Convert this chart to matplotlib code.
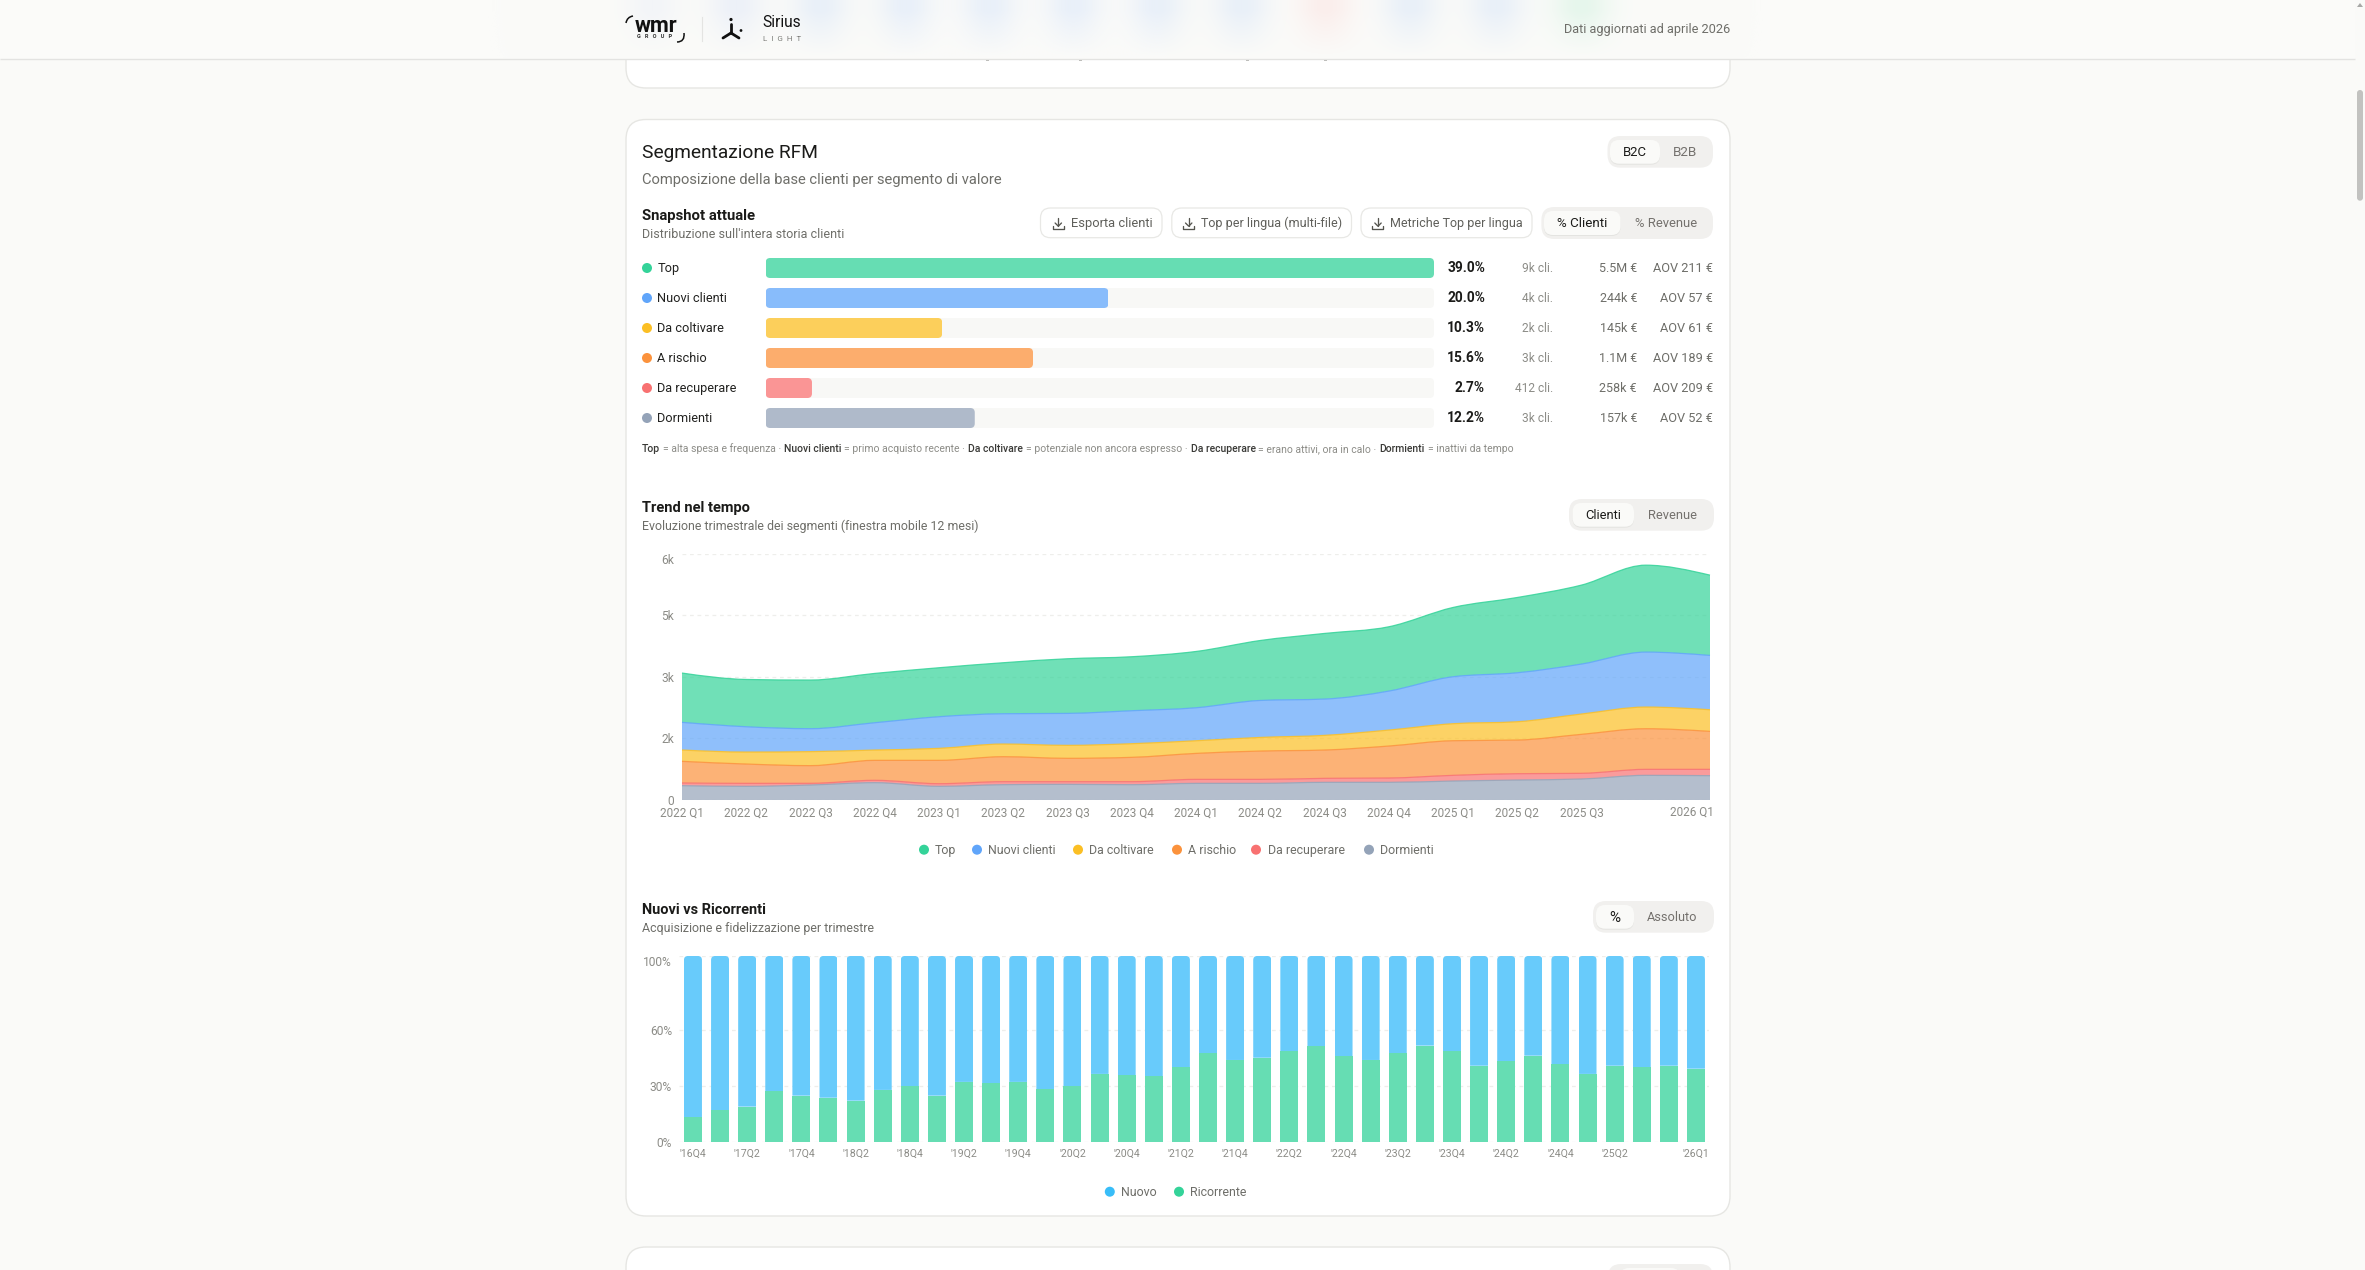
import numpy as np
import matplotlib
matplotlib.use("Agg")
import matplotlib.pyplot as plt
from matplotlib.patches import FancyBboxPatch, PathPatch, Rectangle, Circle
from matplotlib.path import Path

plt.rcParams['font.family'] = ['Roboto', 'DejaVu Sans']

# ---- snapshot data ----
SEGMENTS = ["Top", "Nuovi clienti", "Da coltivare", "A rischio", "Da recuperare", "Dormienti"]
SHARE_PCT = [39.0, 20.0, 10.3, 15.6, 2.7, 12.2]
CLIENTS = ["9k cli.", "4k cli.", "2k cli.", "3k cli.", "412 cli.", "3k cli."]
REVENUE = ["5.5M €", "244k €", "145k €", "1.1M €", "258k €", "157k €"]
AOV = ["AOV 211 €", "AOV 57 €", "AOV 61 €", "AOV 189 €", "AOV 209 €", "AOV 52 €"]
SEG_COLORS = ["#34D399", "#60A5FA", "#FBBF24", "#FB923C", "#F87171", "#94A3B8"]
BAR_COLORS = ["#66DDB3", "#88BCFB", "#FCCF5B", "#FCAD6D", "#FA9595", "#AFBACA"]

# ---- quarterly trend, clients per segment ----
TREND_QUARTERS = ["2022 Q1", "2022 Q2", "2022 Q3", "2022 Q4", "2023 Q1", "2023 Q2", "2023 Q3", "2023 Q4",
                  "2024 Q1", "2024 Q2", "2024 Q3", "2024 Q4", "2025 Q1", "2025 Q2", "2025 Q3", "2025 Q4", "2026 Q1"]
DORMIENTI = [349, 332, 365, 422, 332, 373, 381, 373, 405, 405, 430, 430, 462, 486, 511, 600, 592]
DA_RECUPERARE = [65, 73, 41, 57, 65, 73, 65, 73, 97, 97, 97, 105, 138, 154, 138, 146, 154]
A_RISCHIO = [527, 470, 430, 486, 568, 608, 568, 592, 632, 689, 689, 778, 843, 819, 949, 989, 924]
DA_COLTIVARE = [276, 292, 341, 251, 292, 308, 316, 332, 308, 332, 357, 389, 414, 446, 495, 527, 527]
NUOVI_CLIENTI = [673, 616, 559, 665, 770, 738, 778, 803, 803, 900, 884, 949, 1143, 1192, 1216, 1338, 1322]
TOP = [1200, 1151, 1184, 1200, 1192, 1241, 1330, 1314, 1370, 1459, 1597, 1565, 1686, 1832, 1922, 2116, 1954]
TREND_TICKS = [0, 1500, 3000, 4500, 6000]
TREND_TICK_LABELS = ["0", "2k", "3k", "5k", "6k"]

# ---- new vs returning customers, share per quarter ----
MIX_QUARTERS = ["'16Q4", "'17Q1", "'17Q2", "'17Q3", "'17Q4", "'18Q1", "'18Q2", "'18Q3", "'18Q4", "'19Q1",
                "'19Q2", "'19Q3", "'19Q4", "'20Q1", "'20Q2", "'20Q3", "'20Q4", "'21Q1", "'21Q2", "'21Q3",
                "'21Q4", "'22Q1", "'22Q2", "'22Q3", "'22Q4", "'23Q1", "'23Q2", "'23Q3", "'23Q4", "'24Q1",
                "'24Q2", "'24Q3", "'24Q4", "'25Q1", "'25Q2", "'25Q3", "'25Q4", "'26Q1"]
RICORRENTE = [13.4, 17.0, 19.0, 27.2, 24.9, 23.8, 22.2, 28.0, 29.9, 24.9, 32.3, 31.5, 32.3, 28.3, 29.9, 36.6,
              35.8, 35.3, 40.1, 47.7, 44.1, 45.3, 48.7, 51.4, 46.1, 44.1, 47.8, 51.8, 48.7, 41.0, 43.5, 46.4,
              41.8, 36.6, 41.0, 40.1, 41.0, 39.4]
MIX_TICKS = [0, 30, 60, 100]

INK = "#1B1B19"
MUTED = "#6E6E69"
SOFT = "#8C8C87"
PAGE = "#FAFAF8"
LINE = "#E6E6E3"
GRID = "#EEEEEB"

W, H = 2365, 1270
fig = plt.figure(figsize=(W / 100, H / 100), dpi=100, facecolor=PAGE)
renderer = fig.canvas.get_renderer()
page = fig.add_axes([0, 0, 1, 1], zorder=0)
page.set_axis_off()


def pt(px):
    return px * 72 / 100


def label(x, y, s, px=13, color=INK, ha="left", weight="normal", width_px=None):
    """Place text by its visual centre line, optionally sized to a given pixel width."""
    t = page.text(x, y + 0.32 * px, s, fontsize=pt(px), color=color, ha=ha, va="baseline", fontweight=weight)
    if width_px is not None:
        measured = t.get_window_extent(renderer).width
        px = px * width_px / measured
        t.set_fontsize(pt(px))
        t.set_y(y + 0.32 * px)
    return t


def fitted_px(s, width_px, weight="normal"):
    """Font size in pixels at which a string spans the given width."""
    t = page.text(0, 0, s, fontsize=pt(20), fontweight=weight)
    w = t.get_window_extent(renderer).width
    t.remove()
    return 20 * width_px / w


def round_box(x0, y0, x1, y1, r, fc, ec="none", lw=0.0, z=1):
    p = FancyBboxPatch((x0, y0), x1 - x0, y1 - y0, boxstyle=f"round,pad=0,rounding_size={r}",
                       fc=fc, ec=ec, lw=lw, zorder=z, mutation_aspect=1)
    page.add_patch(p)
    return p


def toggle(x0, y0, x1, y1, ax0, ax1, items):
    round_box(x0, y0, x1, y1, 13, "#F1F0EE")
    round_box(ax0, y0 + 5, ax1, y1 - 3, 9, "#E4E4E1", z=1.1)
    round_box(ax0, y0 + 4, ax1, y1 - 4, 9, "#FAFAF8", z=1.2)
    for i, (cx, s, w) in enumerate(items):
        t = label(cx, (y0 + y1) / 2, s, px=12, color=INK if i == 0 else "#74716D", ha="center", width_px=w)
        t.set_zorder(2)


def rounded_path(x0, y0, x1, y1, rx, ry, bottom=True):
    """Rectangle outline with rounded top corners (and bottom ones if requested), in data units."""
    v = [(x0, y0 + ry), (x0, y0), (x0 + rx, y0), (x1 - rx, y0), (x1, y0), (x1, y0 + ry)]
    c = [Path.MOVETO, Path.CURVE3, Path.CURVE3, Path.LINETO, Path.CURVE3, Path.CURVE3]
    if bottom:
        v += [(x1, y1 - ry), (x1, y1), (x1 - rx, y1), (x0 + rx, y1), (x0, y1), (x0, y1 - ry), (x0, y0 + ry)]
        c += [Path.LINETO, Path.CURVE3, Path.CURVE3, Path.LINETO, Path.CURVE3, Path.CURVE3, Path.CLOSEPOLY]
    else:
        v += [(x1, y1), (x0, y1), (x0, y0 + ry)]
        c += [Path.LINETO, Path.LINETO, Path.CLOSEPOLY]
    return Path(v, c)


def chart_axes(left, top, right, bottom):
    ax = fig.add_axes([left / W, 1 - bottom / H, (right - left) / W, (bottom - top) / H], zorder=2)
    ax.patch.set_alpha(0)
    for sp in ax.spines.values():
        sp.set_visible(False)
    return ax


def monotone_curve(y):
    """Bezier control points of a monotone cubic through unit-spaced values."""
    y = np.asarray(y, float)
    s = np.diff(y)
    t = np.zeros_like(y)
    for i in range(1, len(y) - 1):
        a, b = s[i - 1], s[i]
        t[i] = ((1 if a >= 0 else -1) + (1 if b >= 0 else -1)) * min(abs(a), abs(b), 0.5 * abs((a + b) / 2))
    t[0] = (3 * s[0] - t[1]) / 2
    t[-1] = (3 * s[-1] - t[-2]) / 2
    pts = []
    for i in range(len(y) - 1):
        pts += [(i + 1 / 3, y[i] + t[i] / 3), (i + 2 / 3, y[i + 1] - t[i + 1] / 3), (i + 1, y[i + 1])]
    return [(0.0, y[0])] + pts


# ---- page frame ----
page.set_xlim(0, W)
page.set_ylim(H, 0)

round_box(626, -60, 1730, 88, 20, "white", LINE, 1.0)
round_box(626, 119.5, 1730, 1216, 20, "white", LINE, 1.0)
round_box(626, 1247, 1730, 1330, 20, "white", LINE, 1.0)
round_box(1608, 1264, 1713, 1300, 13, "#F1F0EE")
round_box(1620, 1268, 1680, 1300, 9, "#FAFAF8", z=1.2)

# ---- translucent header with the blurred content behind it ----
hy, hx = np.mgrid[0:59, 0:2355]
header = np.ones((59, 2355, 3)) * np.array([251, 251, 249]) / 255
blobs = [(652, "#F3F5F8", 19), (736, "#EDF1F8", 20), (820, "#E9F0F9", 20), (905, "#E9F0F9", 20), (989, "#E9F0F9", 20),
         (1073, "#E9F0F9", 20), (1157, "#E9F0F9", 20), (1241, "#E9F0F9", 20), (1325, "#FBEEEC", 20),
         (1410, "#E9F0F9", 20), (1496, "#E9F0F9", 20), (1581, "#E6F6EC", 21)]
for cx, col, sig in blobs:
    rgb = np.array(matplotlib.colors.to_rgb(col))
    w = np.exp(-((hx - cx) / sig) ** 2 / 2) * np.clip((58 - hy) / 48, 0, 1) ** 1.1
    header = header * (1 - w[..., None]) + rgb * w[..., None]
page.imshow(header, extent=(0, 2355, 59, 0), aspect="auto", zorder=3, interpolation="bilinear")
page.set_xlim(0, W)
page.set_ylim(H, 0)
page.plot([0, 2355], [58.7, 58.7], color="#E3E3E1", lw=1.0, zorder=3.1, solid_capstyle="butt")

for sx in (988, 1081, 1248, 1326):
    page.add_patch(Rectangle((sx - 1.5, 59.3), 3, 1.8, fc="#B5B5B2", ec="none", zorder=1.5))

# logos
label(635, 25, "wmr", px=20, weight="bold", color="#111111", width_px=43).set_zorder(4)
label(637, 36.5, "G   R   O   U   P", px=5, weight="bold", color="#333333", width_px=36).set_zorder(4)
page.add_patch(PathPatch(Path([(626, 23), (627, 17), (633, 16)], [Path.MOVETO, Path.CURVE3, Path.CURVE3]),
                         fc="none", ec="#111111", lw=1.1, zorder=4))
page.add_patch(PathPatch(Path([(677, 42), (685, 42), (684, 33)], [Path.MOVETO, Path.CURVE3, Path.CURVE3]),
                         fc="none", ec="#111111", lw=1.1, zorder=4))
page.plot([701.7, 701.7], [17, 41], color="#E4E4E2", lw=0.8, zorder=4)
for a, b in (((731, 24), (731, 33)), ((731, 33), (723, 38)), ((731, 33), (739, 38))):
    page.plot([a[0], b[0]], [a[1], b[1]], color="#111111", lw=2.0, solid_capstyle="round", zorder=4)
page.add_patch(Circle((731, 19.5), 1.6, fc="#111111", ec="none", zorder=4))
page.add_patch(Circle((741, 30.5), 1.4, fc="#111111", ec="none", zorder=4))
label(762.7, 22, "Sirius", px=15, color="#111111", width_px=38.5).set_zorder(4)
label(763, 38, "L  I  G  H  T", px=9.5, color="#7D7D79", width_px=38).set_zorder(4)
label(1730, 29, "Dati aggiornati ad aprile 2026", px=12.5, color=MUTED, ha="right", width_px=167).set_zorder(4)

# scrollbar
page.add_patch(FancyBboxPatch((2357, 90), 6, 110.7, boxstyle="round,pad=0,rounding_size=3", fc="#C2C2C0", ec="none", zorder=4))
page.add_patch(plt.Polygon([(2360, 3), (2357, 7), (2363, 7)], fc="#A8A8A6", ec="none", zorder=4))

# ---- section heading ----
label(642, 151.7, "Segmentazione RFM", px=19, width_px=175.5)
label(642, 179.7, "Composizione della base clienti per segmento di valore", px=14, color=MUTED, width_px=362.5)
toggle(1607.5, 136, 1713, 167.7, 1610, 1660, [(1635, "B2C", 24), (1685, "B2B", 24)])

label(642, 215.7, "Snapshot attuale", px=14, weight="semibold", width_px=114)
label(642, 234, "Distribuzione sull'intera storia clienti", px=12, color=MUTED, width_px=200.5)

buttons = [(1040.5, 1162, 1058.3, 1070.6, "Esporta clienti", 81.5),
           (1171.8, 1351.5, 1188.7, 1201, "Top per lingua (multi-file)", 140.5),
           (1361, 1532, 1378, 1390, "Metriche Top per lingua", 131.5)]
for x0, x1, ix, tx, s, w in buttons:
    round_box(x0, 208, x1, 237.7, 10, "white", "#E8E8E5", 0.9)
    label(tx, 223, s, px=12, color="#5F5F5A", width_px=w)
    page.plot([ix, ix], [217.5, 226], color="#55554F", lw=0.95, zorder=2, solid_capstyle="round")
    page.plot([ix - 3.2, ix, ix + 3.2], [223, 226.2, 223], color="#55554F", lw=0.95, zorder=2, solid_capstyle="round")
    page.plot([ix - 5.5, ix - 5.5, ix + 5.5, ix + 5.5], [225.5, 229, 229, 225.5], color="#55554F", lw=0.95, zorder=2,
              solid_capstyle="round")
toggle(1541.4, 207, 1713, 239, 1544, 1620.6, [(1582.5, "% Clienti", 50.5), (1666, "% Revenue", 62.5)])

# ---- snapshot bars ----
ax_s = chart_axes(765.7, 258, 1434, 428)
ax_s.set_xlim(0, max(SHARE_PCT))
ax_s.set_ylim(len(SEGMENTS) - 1 + 1 / 3, -1 / 3)
ax_s.set_xticks([])
ax_s.set_yticks([])
rows = np.arange(len(SEGMENTS))
rx = 4.5 * max(SHARE_PCT) / 668.3
ry = 4.5 / 30
track = ax_s.barh(rows, [max(SHARE_PCT)] * len(rows), height=2 / 3, color="#F8F8F6", zorder=1)
fills = ax_s.barh(rows, SHARE_PCT, height=2 / 3, color=BAR_COLORS, zorder=2)
for i, (tr, fl) in enumerate(zip(track, fills)):
    tr.set_clip_path(rounded_path(0, i - 1 / 3, max(SHARE_PCT), i + 1 / 3, rx, ry), ax_s.transData)
    fl.set_clip_path(rounded_path(0, i - 1 / 3, SHARE_PCT[i], i + 1 / 3, rx, ry), ax_s.transData)

row_px = fitted_px("Nuovi clienti", 70)
pct_px = fitted_px("39.0%", 38, "semibold")
cli_px = fitted_px("9k cli.", 31)
rev_px = fitted_px("5.5M €", 38.6)
aov_px = fitted_px("AOV 211 €", 60)
for i, name in enumerate(SEGMENTS):
    yc = 268 + 30 * i
    page.add_patch(Circle((647, yc), 5, fc=SEG_COLORS[i], ec="none", zorder=2))
    label(657.3, yc, name, px=row_px, color="#222220")
    label(1485, yc, f"{SHARE_PCT[i]:.1f}%", px=pct_px, weight="semibold", ha="right")
    label(1553, yc, CLIENTS[i], px=cli_px, color=SOFT, ha="right")
    label(1637, yc, REVENUE[i], px=rev_px, color=MUTED, ha="right")
    label(1713, yc, AOV[i], px=aov_px, color=MUTED, ha="right")

# definitions line under the bars, bold terms alternate with plain text
note = [("Top", True), ("= alta spesa e frequenza ·", False), ("Nuovi clienti", True),
        ("= primo acquisto recente ·", False), ("Da coltivare", True),
        ("= potenziale non ancora espresso ·", False), ("Da recuperare", True),
        ("= erano attivi, ora in calo ·", False), ("Dormienti", True), ("= inattivi da tempo", False)]
note_gap = 2.9
# fitted_px(s, 1) is the size giving 1 px of width, so its inverse is the width per px of font size
note_em = sum(1 / fitted_px(s, 1, "medium" if b else "normal") for s, b in note)
note_px = (1510 - 642 - note_gap * (len(note) - 1)) / note_em
nx = 642
for s, strong in note:
    t = label(nx, 449, s, px=note_px, color="#3A3A37" if strong else SOFT, weight="medium" if strong else "normal")
    nx += t.get_window_extent(renderer).width + note_gap

# ---- trend area chart ----
label(642, 507, "Trend nel tempo", px=14, weight="semibold", width_px=108)
label(642, 525.7, "Evoluzione trimestrale dei segmenti (finestra mobile 12 mesi)", px=12, color=MUTED, width_px=337)
toggle(1569, 499, 1714, 530.7, 1572.5, 1634, [(1603.6, "Clienti", 36), (1672.8, "Revenue", 49)])

ax_t = chart_axes(682, 553.5, 1710, 800)
ax_t.set_xlim(0, len(TREND_QUARTERS) - 1)
ax_t.set_ylim(0, 6000)
ax_t.set_yticks(TREND_TICKS, TREND_TICK_LABELS, fontsize=pt(12), color=SOFT)
ax_t.tick_params(axis="both", length=0)
ax_t.tick_params(axis="y", pad=pt(8))
shown = list(range(15))
trend_tick_px = fitted_px("2022 Q1", 43.6)
ax_t.set_xticks(shown, [TREND_QUARTERS[i] for i in shown], fontsize=pt(trend_tick_px), color=SOFT)
ax_t.tick_params(axis="x", pad=pt(6.5))
ax_t.get_yticklabels()[-1].set_va("top")
ax_t.annotate(TREND_QUARTERS[-1], (len(TREND_QUARTERS) - 1, 0), xytext=(pt(4), -pt(12)), textcoords="offset points",
              ha="right", va="center", fontsize=pt(trend_tick_px), color=SOFT, annotation_clip=False)
ax_t.grid(axis="y", color=GRID, lw=0.9, ls=(0, (3, 3)), zorder=0)
ax_t.set_axisbelow(True)

stack_order = [("Dormienti", DORMIENTI), ("Da recuperare", DA_RECUPERARE), ("A rischio", A_RISCHIO),
               ("Da coltivare", DA_COLTIVARE), ("Nuovi clienti", NUOVI_CLIENTI), ("Top", TOP)]
lower = np.zeros(len(TREND_QUARTERS))
for name, values in stack_order:
    col = SEG_COLORS[SEGMENTS.index(name)]
    upper = lower + np.array(values, float)
    up = monotone_curve(upper)
    lo = monotone_curve(lower)[::-1]
    n = len(up) - 1
    verts = up + lo + [up[0]]
    codes = [Path.MOVETO] + [Path.CURVE4] * n + [Path.LINETO] + [Path.CURVE4] * n + [Path.CLOSEPOLY]
    ax_t.add_patch(PathPatch(Path(verts, codes), fc=col, ec="none", alpha=0.7, zorder=2))
    ax_t.add_patch(PathPatch(Path(up, [Path.MOVETO] + [Path.CURVE4] * n), fc="none", ec=col, lw=0.9, alpha=0.85,
                             zorder=3, clip_on=False))
    lower = upper

legend_t = [("Top", 924, 934.6), ("Nuovi clienti", 977, 988), ("Da coltivare", 1078, 1089),
            ("A rischio", 1177, 1188), ("Da recuperare", 1256, 1267.7), ("Dormienti", 1369, 1380)]
legend_px = fitted_px("Nuovi clienti", 68)
for name, dx, tx in legend_t:
    page.add_patch(Circle((dx, 849.7), 5, fc=SEG_COLORS[SEGMENTS.index(name)], ec="none", zorder=2))
    label(tx, 849.7, name, px=legend_px, color=MUTED)

# ---- new vs returning stacked bars ----
label(642, 909, "Nuovi vs Ricorrenti", px=14, weight="semibold", width_px=124.5)
label(642, 927.7, "Acquisizione e fidelizzazione per trimestre", px=12, color=MUTED, width_px=233.5)
toggle(1593, 901, 1714, 932.7, 1596, 1634, [(1615, "%", 11), (1672.4, "Assoluto", 50)])

ax_m = chart_axes(679.4, 956, 1709.5, 1142)
ax_m.set_xlim(-0.5, len(MIX_QUARTERS) - 0.5)
ax_m.set_ylim(0, 100)
ax_m.set_yticks(MIX_TICKS, [f"{v}%" for v in MIX_TICKS], fontsize=pt(12), color=SOFT)
ax_m.tick_params(axis="both", length=0)
ax_m.tick_params(axis="y", pad=pt(7.4))
shown = list(range(0, 36, 2))
mix_tick_px = fitted_px("'16Q4", 26.6)
ax_m.set_xticks(shown, [MIX_QUARTERS[i] for i in shown], fontsize=pt(mix_tick_px), color=SOFT)
ax_m.tick_params(axis="x", pad=pt(6.5))
ax_m.annotate(MIX_QUARTERS[-1], (len(MIX_QUARTERS) - 0.5, 0), xytext=(0, -pt(11.3)), textcoords="offset points",
              ha="right", va="center", fontsize=pt(mix_tick_px), color=SOFT, annotation_clip=False)
ax_m.get_yticklabels()[-1].set_va("top")
ax_m.grid(axis="y", color=GRID, lw=0.9, ls=(0, (3, 3)), zorder=0)
ax_m.set_axisbelow(True)

xs = np.arange(len(MIX_QUARTERS))
ric = np.array(RICORRENTE)
nuovo = 100 - ric
bar_w = 18 / 27.12
ax_m.bar(xs, ric, width=bar_w, color="#66DDB3", zorder=2)
tops = ax_m.bar(xs, nuovo, bottom=ric, width=bar_w, color="#68CBFB", zorder=2)
rx_m = 4 / 27.12
ry_m = 4 / 1.86
for x, r, b in zip(xs, ric, tops):
    b.set_clip_path(rounded_path(x - bar_w / 2, 100, x + bar_w / 2, r, rx_m, -ry_m, bottom=False), ax_m.transData)

for name, col, dx, tx in (("Nuovo", "#38BDF8", 1109.8, 1121), ("Ricorrente", "#34D399", 1179, 1190.3)):
    page.add_patch(Circle((dx, 1191.7), 5, fc=col, ec="none", zorder=2))
    label(tx, 1191.7, name, px=legend_px, color=MUTED)

fig.savefig("out.png", dpi=100, facecolor=PAGE)
